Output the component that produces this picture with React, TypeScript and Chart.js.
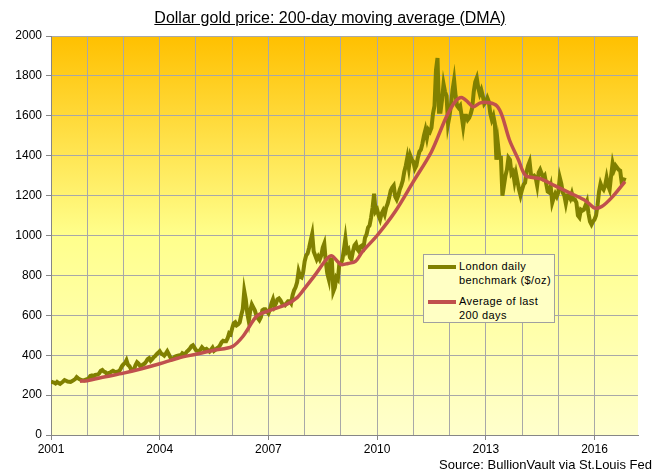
import React, { useEffect, useRef } from "react";
import { Chart, registerables } from "chart.js";

Chart.register(...registerables);

// Gold price, London daily benchmark ($/oz) – two readings per month
const gold2001 = [268, 265, 263, 258, 266, 260, 256, 262, 268, 275, 272, 268, 267, 266, 270, 275, 280, 290, 284, 279, 275, 274, 273, 278];
const gold2002 = [280, 284, 296, 298, 292, 300, 302, 303, 310, 322, 326, 318, 315, 305, 310, 312, 318, 322, 318, 315, 318, 320, 330, 345];
const gold2003 = [355, 360, 375, 352, 345, 330, 326, 330, 350, 365, 358, 346, 348, 354, 358, 368, 380, 385, 372, 380, 390, 396, 405, 412];
const gold2004 = [420, 408, 404, 398, 408, 420, 405, 390, 380, 385, 392, 395, 398, 400, 398, 410, 405, 408, 418, 425, 433, 445, 450, 438];
const gold2005 = [425, 422, 420, 428, 440, 432, 428, 432, 425, 418, 428, 438, 422, 428, 436, 440, 450, 465, 472, 470, 470, 485, 510, 505];
const gold2006 = [535, 560, 565, 550, 555, 565, 600, 630, 722, 680, 610, 570, 625, 655, 640, 625, 600, 585, 575, 590, 625, 630, 630, 620];
const gold2007 = [610, 630, 660, 680, 645, 660, 680, 685, 675, 660, 655, 650, 660, 670, 670, 660, 700, 725, 740, 765, 820, 795, 790, 815];
const gold2008 = [870, 900, 910, 940, 975, 1008, 920, 900, 880, 895, 880, 900, 940, 960, 870, 810, 780, 880, 880, 720, 740, 790, 780, 860];
const gold2009 = [860, 880, 930, 985, 920, 930, 890, 880, 920, 950, 960, 930, 920, 945, 950, 940, 990, 1005, 1040, 1050, 1090, 1140, 1210, 1120];
const gold2010 = [1130, 1100, 1080, 1110, 1125, 1105, 1140, 1160, 1190, 1225, 1240, 1250, 1195, 1180, 1200, 1230, 1250, 1275, 1320, 1350, 1390, 1340, 1400, 1380];
const gold2011 = [1370, 1335, 1350, 1390, 1420, 1430, 1460, 1500, 1530, 1490, 1530, 1520, 1540, 1610, 1650, 1830, 1890, 1620, 1620, 1680, 1760, 1720, 1700, 1560];
const gold2012 = [1600, 1660, 1730, 1780, 1700, 1650, 1640, 1650, 1600, 1545, 1600, 1600, 1580, 1590, 1610, 1640, 1720, 1770, 1790, 1740, 1710, 1730, 1700, 1660];
const gold2013 = [1670, 1690, 1670, 1610, 1580, 1600, 1560, 1380, 1460, 1390, 1390, 1200, 1250, 1300, 1330, 1390, 1380, 1310, 1320, 1270, 1310, 1270, 1230, 1200];
const gold2014 = [1230, 1255, 1265, 1320, 1350, 1370, 1300, 1295, 1300, 1290, 1250, 1315, 1330, 1310, 1290, 1300, 1260, 1220, 1215, 1245, 1165, 1190, 1210, 1195];
const gold2015 = [1215, 1290, 1260, 1215, 1200, 1160, 1200, 1200, 1185, 1210, 1180, 1180, 1165, 1100, 1090, 1130, 1125, 1130, 1150, 1170, 1110, 1070, 1055, 1070];
const gold2016 = [1080, 1100, 1150, 1220, 1260, 1240, 1230, 1250, 1290, 1250, 1230, 1300, 1362, 1330, 1350, 1340, 1330, 1325, 1265, 1270, 1290];

const goldYears = [2001, 2002, 2003, 2004, 2005, 2006, 2007, 2008, 2009, 2010, 2011, 2012, 2013, 2014, 2015, 2016];
const goldSeries = [gold2001, gold2002, gold2003, gold2004, gold2005, gold2006, gold2007, gold2008, gold2009, gold2010, gold2011, gold2012, gold2013, gold2014, gold2015, gold2016];

// 200-day moving average
const avgX = [2001.8, 2002.0, 2002.5, 2003.0, 2003.5, 2004.0, 2004.5, 2005.0, 2005.5, 2006.0, 2006.3, 2006.68, 2007.0, 2007.5, 2007.8, 2008.0, 2008.3, 2008.6, 2008.75, 2009.0, 2009.2, 2009.4, 2009.6, 2010.0, 2010.5, 2011.0, 2011.5, 2011.9, 2012.15, 2012.33, 2012.5, 2012.65, 2012.85, 2013.1, 2013.3, 2013.45, 2013.65, 2013.9, 2014.1, 2014.5, 2014.9, 2015.3, 2015.7, 2015.85, 2016.0, 2016.2, 2016.5, 2016.84];
const avgY = [270, 272, 292, 310, 332, 357, 385, 405, 425, 443, 495, 596, 622, 655, 690, 735, 805, 880, 898, 855, 860, 870, 920, 1000, 1120, 1270, 1420, 1590, 1670, 1692, 1670, 1645, 1665, 1665, 1650, 1600, 1480, 1380, 1300, 1285, 1250, 1215, 1180, 1160, 1138, 1145, 1195, 1270];

const xTickYears = [2001, 2004, 2007, 2010, 2013, 2016];
const yMin = 0;
const yMax = 2000;
const yStep = 200;

const titleText = "Dollar gold price: 200-day moving average (DMA)";
const legendGold = ["London daily", "benchmark ($/oz)"];
const legendAvg = ["Average of last", "200 days"];
const sourceText = "Source: BullionVault via St.Louis Fed";

const FONT = "'Liberation Sans', Arial, sans-serif";
const GRID = "#A8A8A8";

const bgPlugin = {
  id: "bgGradient",
  beforeDraw(chart: any) {
    const { ctx, chartArea } = chart;
    if (!chartArea) return;
    const g = ctx.createLinearGradient(0, chartArea.top, 0, chartArea.bottom);
    g.addColorStop(0, "#FFC000");
    g.addColorStop(0.5, "#FFFF8C");
    g.addColorStop(1, "#FFFFCC");
    ctx.save();
    ctx.fillStyle = g;
    ctx.fillRect(chartArea.left, chartArea.top, chartArea.right - chartArea.left, chartArea.bottom - chartArea.top);
    ctx.restore();
  },
};

export default function App() {
  const ref = useRef<HTMLCanvasElement | null>(null);

  useEffect(() => {
    document.body.style.margin = "0";
    const goldPts: { x: number; y: number }[] = [];
    goldSeries.forEach((arr, k) => {
      arr.forEach((v, i) => goldPts.push({ x: goldYears[k] + i / 24, y: v }));
    });
    const avgPts = avgX.map((x, i) => ({ x, y: avgY[i] }));

    const chart = new Chart(ref.current as HTMLCanvasElement, {
      type: "line",
      data: {
        datasets: [
          {
            label: "London daily benchmark ($/oz)",
            data: goldPts,
            borderColor: "#808000",
            borderWidth: 4,
            pointRadius: 0,
            tension: 0,
            order: 2,
          },
          {
            label: "Average of last 200 days",
            data: avgPts,
            borderColor: "#C0504D",
            borderWidth: 3.5,
            pointRadius: 0,
            tension: 0.3,
            order: 1,
          },
        ],
      },
      options: {
        animation: false,
        responsive: false,
        layout: { padding: { left: 0, top: 36, right: 17, bottom: 17 } },
        plugins: { legend: { display: false }, tooltip: { enabled: false }, title: { display: false } },
        scales: {
          x: {
            type: "linear",
            min: 2001,
            max: 2017.2,
            afterBuildTicks: (s: any) => {
              s.ticks = s.ticks.filter((t: any) => Number.isInteger(t.value));
            },
            afterFit: (s: any) => {
              s.height = 22;
            },
            ticks: {
              stepSize: 1,
              autoSkip: false,
              maxRotation: 0,
              padding: 2,
              color: "#000",
              font: { family: FONT, size: 12 },
              callback: (v: any) => (xTickYears.includes(Number(v)) ? String(v) : ""),
            },
            grid: {
              color: GRID,
              lineWidth: 1,
              tickLength: 5,
              tickColor: (c: any) => (c.tick && xTickYears.includes(c.tick.value) ? "#868686" : "rgba(0,0,0,0)"),
            },
            border: { color: "#868686", width: 1 },
          },
          y: {
            min: yMin,
            max: yMax,
            afterFit: (s: any) => {
              s.width = 51;
            },
            ticks: {
              stepSize: yStep,
              padding: 4,
              color: "#000",
              font: { family: FONT, size: 12 },
              callback: (v: any) => String(v),
            },
            grid: { color: GRID, lineWidth: 1, tickLength: 5, tickColor: "#868686" },
            border: { color: "#868686", width: 1 },
          },
        },
      },
      plugins: [bgPlugin],
    } as any);
    return () => chart.destroy();
  }, []);

  const legendLine = (color: string) => (
    <span style={{ display: "inline-block", width: 28, height: 4, background: color, marginTop: 6, flex: "none" }} />
  );

  return (
    <div style={{ position: "relative", width: 655, height: 474, background: "#fff", fontFamily: FONT }}>
      <canvas ref={ref} width={655} height={474} style={{ display: "block" }} />
      <div
        style={{
          position: "absolute",
          top: 8,
          left: 0,
          width: 660,
          textAlign: "center",
          fontSize: 16,
          textDecoration: "underline",
          color: "#000",
          lineHeight: "19px",
        }}
      >
        {titleText}
      </div>
      <div
        style={{
          position: "absolute",
          left: 423,
          top: 254,
          width: 132,
          height: 69,
          background: "#FFFFC4",
          border: "1px solid #A0A0A0",
          fontSize: 11,
          color: "#000",
          lineHeight: "14px",
          boxSizing: "border-box",
          padding: "4px 0 0 4px",
        }}
      >
        <div style={{ display: "flex", gap: 3 }}>
          {legendLine("#808000")}
          <div style={{ letterSpacing: 0.4 }}>
            {legendGold[0]}
            <br />
            {legendGold[1]}
          </div>
        </div>
        <div style={{ display: "flex", gap: 3, marginTop: 7 }}>
          {legendLine("#C0504D")}
          <div style={{ letterSpacing: 0.4 }}>
            {legendAvg[0]}
            <br />
            {legendAvg[1]}
          </div>
        </div>
      </div>
      <div
        style={{
          position: "absolute",
          right: 3,
          top: 457,
          fontSize: 13,
          color: "#000",
          lineHeight: "15px",
        }}
      >
        {sourceText}
      </div>
    </div>
  );
}
